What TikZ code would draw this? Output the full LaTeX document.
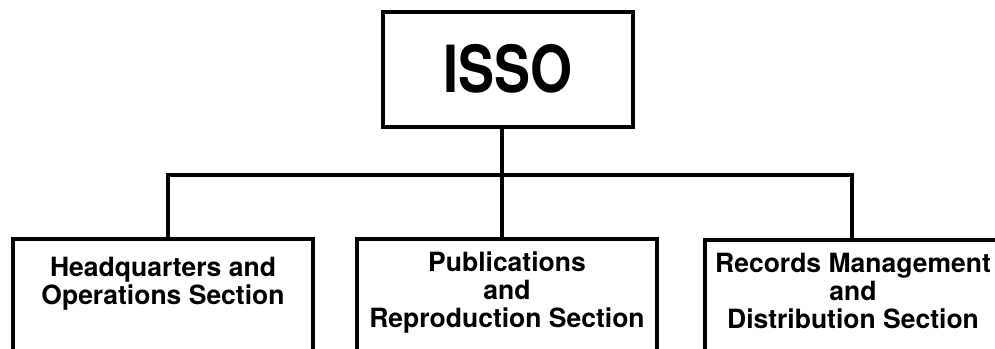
\documentclass[tikz,border=0pt]{standalone}
\usepackage{fontspec}
\setmainfont{TeX Gyre Heros}
\usetikzlibrary{positioning}
\begin{document}
\begin{tikzpicture}[
        link/.style={line width=3.5pt},
        head/.style={draw, line width=3.5pt, minimum width=250pt, minimum height=115pt, inner sep=0pt, font=\fontsize{65}{65}\selectfont\bfseries},
        dept/.style={draw, line width=3.5pt, minimum width=300pt, minimum height=160pt, anchor=north},
        depttext/.style={align=center, inner sep=0pt, font=\fontsize{26.5}{28}\selectfont\bfseries}
    ]
        % Frame
        \path[use as bounding box, clip] (0,0) rectangle (995pt,-348pt);

        % Top unit
        \node[head] (isso) at (508pt,-69.5pt) {\raisebox{3pt}{\scalebox{0.83}[1]{ISSO}}};

        % Sections
        \node[dept] (hq) at (163pt,-237pt) {};
        \node[dept] (pub) at (507pt,-237pt) {};
        \node[dept] (rec) at (855pt,-238pt) {};

        \node[depttext, below=20pt of hq.north] (hqtext) {Headquarters and\\Operations Section};
        \node[depttext, below=15pt of pub.north] (pubtext) {Publications\\and\\Reproduction Section};
        \node[depttext, below=15pt of rec.north, xshift=-2pt] (rectext) {Records Management\\and\\Distribution Section};

        % Links
        \draw[link] ([xshift=-6pt]isso.south) -- ([xshift=-5pt]pub.north);
        \draw[link] ([xshift=5pt]hq.north) -- ++(0,62pt) -| ([xshift=-3pt]rec.north);
    \end{tikzpicture}
\end{document}
